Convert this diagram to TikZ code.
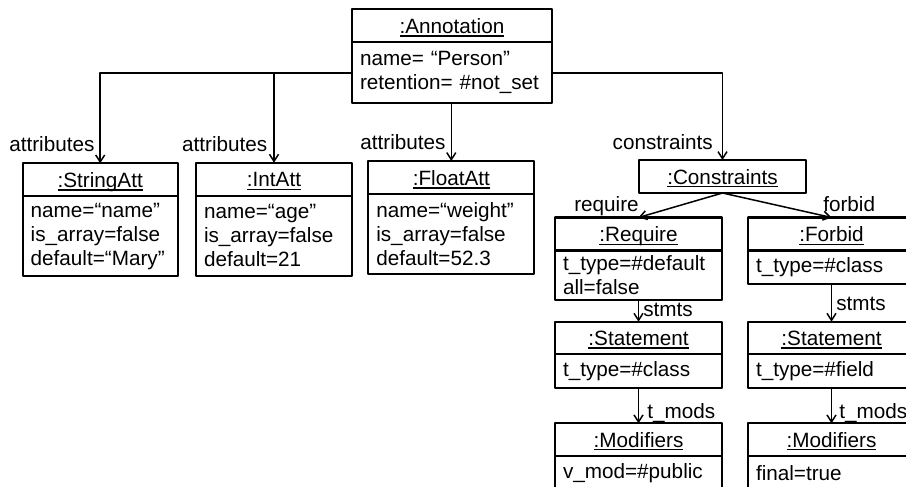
\documentclass[tikz,border=0pt]{standalone}
\usepackage{fontspec}
\setmainfont{Liberation Sans}
\usetikzlibrary{arrows.meta}
\newcommand\objname[1]{\setbox0\hbox{#1}\rlap{\vrule height -2pt depth 3.4pt width \wd0}\box0}
\tikzset{
  hd/.style={draw, line width=2.2pt, outer sep=0pt, inner sep=0pt, minimum width=#1, minimum height=33pt, text height=15pt, text depth=0pt, anchor=north west},
  bd/.style={draw, line width=2.2pt, outer sep=0pt, inner xsep=8pt, inner ysep=0pt, text width=#1, align=left, anchor=north west},
  lnk/.style={-{Straight Barb[length=7pt,width=9pt]}, line width=1.5pt},
  lbl/.style={inner sep=0pt, pos=1}
}
\begin{document}
\begin{tikzpicture}[x=1pt, y=-1pt, font=\fontsize{20.7}{24}\selectfont, line join=round, line cap=round]
\useasboundingbox (0,0) rectangle (906,487);
\clip (0,0) rectangle (906,487);
% annotation
\node[hd=200pt] (ann) at (352,9.3) {\objname{:Annotation}};
\node[bd=184pt, minimum height=61pt] (ann-b) at (ann.south west) {name= “Person”\\retention= \#not\_set};
% attributes
\node[hd=155pt] (str) at (22.7,163.3) {\objname{:StringAtt}};
\node[bd=139pt, minimum height=80pt] (str-b) at (str.south west) {name=“name”\\is\_array=false\\default=“Mary”};
\node[hd=156pt] (int) at (196,162.7) {\objname{:IntAtt}};
\node[bd=140pt, minimum height=80pt] (int-b) at (int.south west) {name=“age”\\is\_array=false\\default=21};
\node[hd=166pt, minimum height=33.3pt] (flt) at (368.3,161) {\objname{:FloatAtt}};
\node[bd=150pt, minimum height=80pt] (flt-b) at (flt.south west) {name=“weight”\\is\_array=false\\default=52.3};
% constraints
\node[hd=167pt] (con) at (639,160) {\objname{:Constraints}};
\node[hd=167pt] (req) at (555,217.5) {\objname{:Require}};
\node[bd=151pt, minimum height=49.5pt] (req-b) at (req.south west) {t\_type=\#default\\all=false};
\node[hd=167pt] (frb) at (748,217.5) {\objname{:Forbid}};
\node[bd=151pt, minimum height=33.5pt] (frb-b) at (frb.south west) {t\_type=\#class};
% statements and modifiers
\node[hd=167pt, minimum height=32.3pt] (st1) at (555,321.7) {\objname{:Statement}};
\node[bd=151pt, minimum height=33.7pt] (st1-b) at (st1.south west) {t\_type=\#class};
\node[hd=167pt, minimum height=32.3pt] (st2) at (748,321.7) {\objname{:Statement}};
\node[bd=151pt, minimum height=33.7pt] (st2-b) at (st2.south west) {t\_type=\#field};
\node[hd=167pt, minimum height=32.4pt] (md1) at (555,423.3) {\objname{:Modifiers}};
\node[bd=151pt, minimum height=34pt] (md1-b) at (md1.south west) {v\_mod=\#public};
\node[hd=167pt, minimum height=32.4pt] (md2) at (748,423.3) {\objname{:Modifiers}};
\node[bd=151pt, minimum height=34pt] (md2-b) at (md2.south west) {final=true};
% links
\draw[lnk] (ann-b.west) -| node[lbl, anchor=base east, shift={(-5pt,11.5pt)}] {attributes} (str.north);
\draw[lnk] (ann-b.west) -| node[lbl, anchor=base east, shift={(-6pt,11.5pt)}] {attributes} (int.north);
\draw[lnk] (flt.north |- ann-b.south) -- node[lbl, anchor=base east, shift={(-5pt,11.5pt)}] {attributes} (flt.north);
\draw[lnk] (ann-b.east) -| node[lbl, anchor=base east, shift={(-9pt,10.7pt)}] {constraints} (con.north);
\draw[lnk] (con.south) -- node[lbl, anchor=base east, shift={(1pt,6.5pt)}] {require} (req.north);
\draw[lnk] (con.south) -- node[lbl, anchor=base west, shift={(-9pt,6.5pt)}] {forbid} (frb.north);
\draw[lnk] (req-b.south) -- node[lbl, anchor=base west, shift={(4pt,5.3pt)}] {stmts} (st1.north);
\draw[lnk] (frb-b.south) -- node[lbl, anchor=base west, shift={(4pt,11pt)}] {stmts} (st2.north);
\draw[lnk] (st1-b.south) -- node[lbl, anchor=base west, shift={(8pt,5pt)}] {t\_mods} (md1.north);
\draw[lnk] (st2-b.south) -- node[lbl, anchor=base west, shift={(7pt,5pt)}] {t\_mods} (md2.north);
\end{tikzpicture}
\end{document}
